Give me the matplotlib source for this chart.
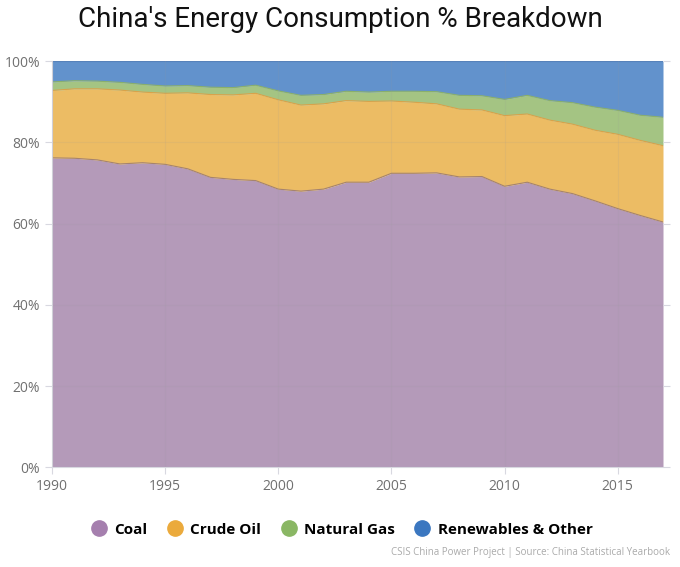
import numpy as np
import matplotlib
matplotlib.use("Agg")
from matplotlib import pyplot as plt
from matplotlib.lines import Line2D

# data (share of total energy consumption, %)
years = list(range(1990, 2018))
coal = [76.2, 76.1, 75.7, 74.7, 75.0, 74.6, 73.5, 71.4, 70.9, 70.6,
        68.5, 68.0, 68.5, 70.2, 70.2, 72.4, 72.4, 72.5, 71.5, 71.6,
        69.2, 70.2, 68.5, 67.4, 65.6, 63.7, 62.0, 60.4]
oil = [16.6, 17.1, 17.5, 18.2, 17.4, 17.5, 18.7, 20.4, 20.8, 21.5,
       22.0, 21.2, 21.0, 20.1, 19.9, 17.8, 17.5, 17.0, 16.7, 16.4,
       17.4, 16.8, 17.0, 17.1, 17.4, 18.3, 18.5, 18.8]
gas = [2.1, 2.0, 1.9, 1.9, 1.9, 1.8, 1.8, 1.8, 1.8, 2.0,
       2.2, 2.4, 2.3, 2.3, 2.3, 2.4, 2.7, 3.0, 3.4, 3.5,
       4.0, 4.6, 4.8, 5.3, 5.7, 5.9, 6.2, 7.0]
other = [round(100 - c - o - g, 1) for c, o, g in zip(coal, oil, gas)]

labels = ["Coal", "Crude Oil", "Natural Gas", "Renewables & Other"]
fill_cols = ["#b49ab9", "#ecbc64", "#a4c483", "#6292cc"]
edge_cols = ["#a5836f", "#d9a24a", "#8bb06a", "#4f7fbf"]
dot_cols = ["#a57fae", "#ebaa3c", "#8ab764", "#3b77c0"]

fig = plt.figure(figsize=(6.8, 5.67), dpi=100)
ax = fig.add_axes([0.0765, 0.176, 0.8985, 0.716])

series = [coal, oil, gas, other]
base = np.zeros(len(years))
for vals, fc, ec in zip(series, fill_cols, edge_cols):
    top = base + np.array(vals)
    ax.fill_between(years, base, top, color=fc, linewidth=0)
    ax.plot(years, top, color=ec, linewidth=0.8)
    base = top

ax.set_xlim(1990, 2017)
ax.set_ylim(0, 100)
ax.set_xticks(range(1990, 2016, 5))
ax.set_yticks(range(0, 101, 20))
ax.set_yticklabels([f"{v}%" for v in range(0, 101, 20)])
ax.grid(True, color="#999999", alpha=0.12, linewidth=0.8)
ax.set_axisbelow(False)

for side in ["top", "right"]:
    ax.spines[side].set_visible(False)
for side in ["left", "bottom"]:
    ax.spines[side].set_color("#d8d8e0")
ax.tick_params(colors="#d8d8e0", labelcolor="#707070", labelsize=10,
               length=5, right=True)
for lab in ax.get_xticklabels() + ax.get_yticklabels():
    lab.set_family(["Open Sans", "DejaVu Sans"])

fig.text(0.5, 0.965, "China's Energy Consumption % Breakdown",
         ha="center", va="center", fontsize=20, family="Roboto",
         color="#111111")

handles = [Line2D([], [], marker="o", linestyle="", markersize=11,
                  markerfacecolor=c, markeredgecolor=c) for c in dot_cols]
leg = fig.legend(handles, labels, loc="center", bbox_to_anchor=(0.5, 0.066),
                 ncol=4, frameon=False, handletextpad=0.25, columnspacing=1.05,
                 handlelength=1.5,
                 prop={"family": "Open Sans", "weight": "bold", "size": 11})

fig.text(0.985, 0.015, "CSIS China Power Project | Source: China Statistical Yearbook",
         ha="right", va="bottom", fontsize=7, color="#aaaaaa", family="Open Sans")

fig.savefig("out.png", dpi=100)
